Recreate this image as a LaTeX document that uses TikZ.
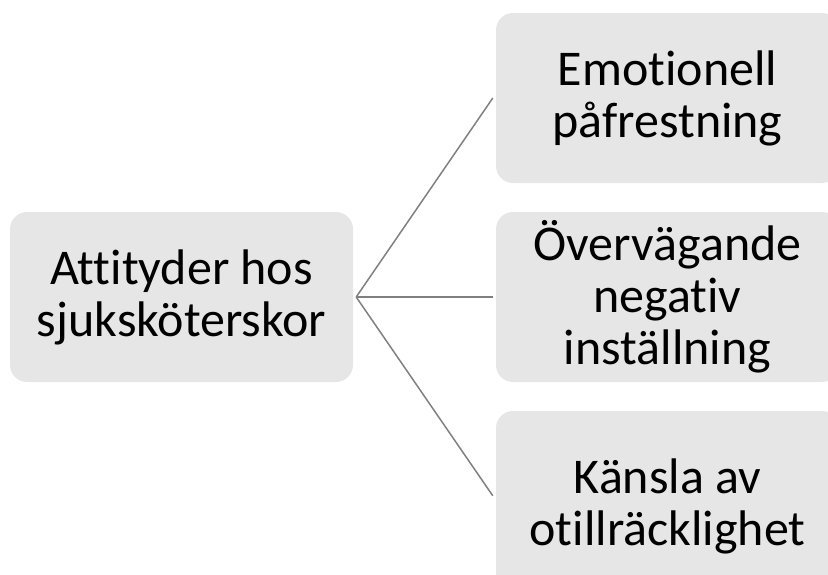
\documentclass[tikz,border=0pt]{standalone}
\usepackage{fontspec}
\setmainfont[Ligatures={NoCommon}]{Carlito}
\definecolor{boxgray}{RGB}{230,230,230}
\definecolor{linegray}{RGB}{128,128,128}
\begin{document}
\begin{tikzpicture}[x=1pt,y=-1pt,
  box/.style={fill=boxgray, rounded corners=17pt, minimum width=343pt, minimum height=170pt,
    align=center, inner sep=0pt, font=\fontsize{50}{52}\selectfont},
  conn/.style={draw=linegray, line width=1.5pt}]
\useasboundingbox (0,0) rectangle (828,574);
\node[box] (root) at (181.5,297) {Attityder hos\\sjuksköterskor};
\node[box] (c1) at (667.5,98) {Emotionell\\påfrestning};
\node[box] (c2) at (667.5,297) {Övervägande\\negativ\\inställning};
\node[box, minimum height=190pt] (c3) at (667.5,506) {Känsla av\\otillräcklighet};
\draw[conn] ([xshift=3pt]root.east) -- ([xshift=-3pt]c1.west);
\draw[conn] ([xshift=3pt]root.east) -- ([xshift=-3pt]c2.west);
\draw[conn] ([xshift=3pt]root.east) -- ([shift={(-3,85)}]c3.north west);
\end{tikzpicture}
\end{document}
